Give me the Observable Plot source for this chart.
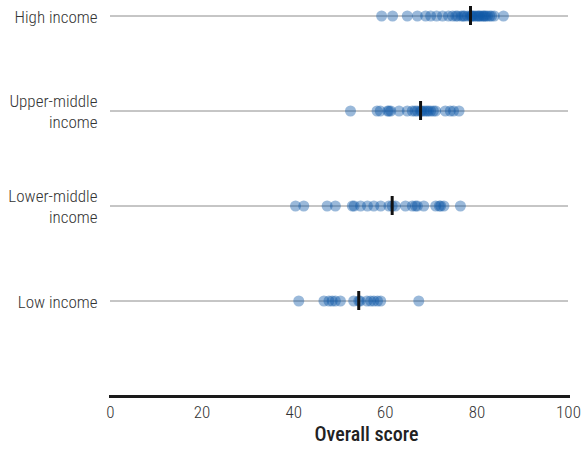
<!DOCTYPE html>
<html>
<head>
<meta charset="utf-8">
<script src="https://cdn.jsdelivr.net/npm/d3@7"></script>
<script src="https://cdn.jsdelivr.net/npm/@observablehq/plot@0.6"></script>
<style>
  html, body { margin: 0; padding: 0; background: #fff; }
  #chart { width: 584px; height: 450px; }
</style>
</head>
<body>
<div id="chart"></div>
<script>
const groups = ["High income", "Upper-middle income", "Lower-middle income", "Low income"];
const groupLabels = ["High income", "Upper-middle\nincome", "Lower-middle\nincome", "Low income"];
const xTicks = [0, 20, 40, 60, 80, 100];
const axisTitle = "Overall score";

const highIncome = [59.2, 61.6, 64.8, 67.0, 68.8, 69.9, 71.2, 72.5, 73.8, 74.7, 75.4, 75.8, 76.6, 77.0, 77.3, 78.0, 78.6, 78.8, 79.0, 79.3, 79.7, 80.1, 80.4, 80.6, 81.0, 81.4, 81.6, 81.9, 82.3, 82.8, 83.2, 83.8, 85.8];
const upperMiddle = [52.4, 58.2, 58.9, 60.5, 60.8, 61.2, 63.0, 64.8, 65.9, 66.5, 67.0, 67.7, 68.0, 68.5, 69.0, 69.4, 69.9, 70.5, 71.0, 73.1, 74.2, 74.9, 76.1];
const lowerMiddle = [40.4, 42.2, 47.3, 49.1, 52.8, 53.2, 54.6, 56.1, 57.5, 59.0, 60.8, 61.5, 62.2, 64.4, 65.9, 66.6, 67.0, 68.4, 71.0, 71.8, 72.1, 72.8, 76.4];
const lowIncome = [41.1, 46.6, 47.7, 48.4, 49.1, 50.2, 53.1, 54.2, 54.5, 56.0, 56.8, 57.5, 58.3, 59.0, 67.3];

const series = [highIncome, upperMiddle, lowerMiddle, lowIncome];
const data = groups.flatMap((g, i) => series[i].map(v => ({group: g, score: v})));
const labelMap = new Map(groups.map((g, i) => [g, groupLabels[i]]));

const font = "'Roboto Condensed', 'Liberation Sans Narrow', 'Arial Narrow', 'Liberation Sans', sans-serif";

const chart = Plot.plot({
  width: 584,
  height: 450,
  marginLeft: 110,
  marginRight: 16,
  marginTop: 0,
  marginBottom: 54,
  style: {fontFamily: font, fontSize: "17px", color: "#333", background: "#fff"},
  x: {domain: [0, 100]},
  y: {type: "band", domain: groups, range: [-32.5, 347.5], padding: 0},
  marks: [
    Plot.ruleY(groups, {stroke: "#8c8c8c", strokeWidth: 1}),
    Plot.frame({anchor: "bottom", stroke: "#1a1a1a", strokeWidth: 3}),
    Plot.dot(data, {x: "score", y: "group", r: 5.5, fill: "#0f58a8", fillOpacity: 0.42, stroke: "none"}),
    Plot.tickX(data, Plot.groupY({x: "median"}, {x: "score", y: "group", stroke: "#111", strokeWidth: 3, insetTop: 38, insetBottom: 38})),
    Plot.axisY({tickSize: 0, tickPadding: 13, tickFormat: d => labelMap.get(d), fontSize: 17, fontWeight: 300, lineHeight: 1.25, fill: "#333", label: null}),
    Plot.axisX({ticks: xTicks, tickSize: 0, tickPadding: 9, fontSize: 17, fontWeight: 300, fill: "#333", label: null}),
    Plot.text([axisTitle], {frameAnchor: "bottom", dx: 27, dy: 44, fontSize: 20, fontWeight: 500, fill: "#222"})
  ]
});
document.getElementById("chart").append(chart);
</script>
</body>
</html>
